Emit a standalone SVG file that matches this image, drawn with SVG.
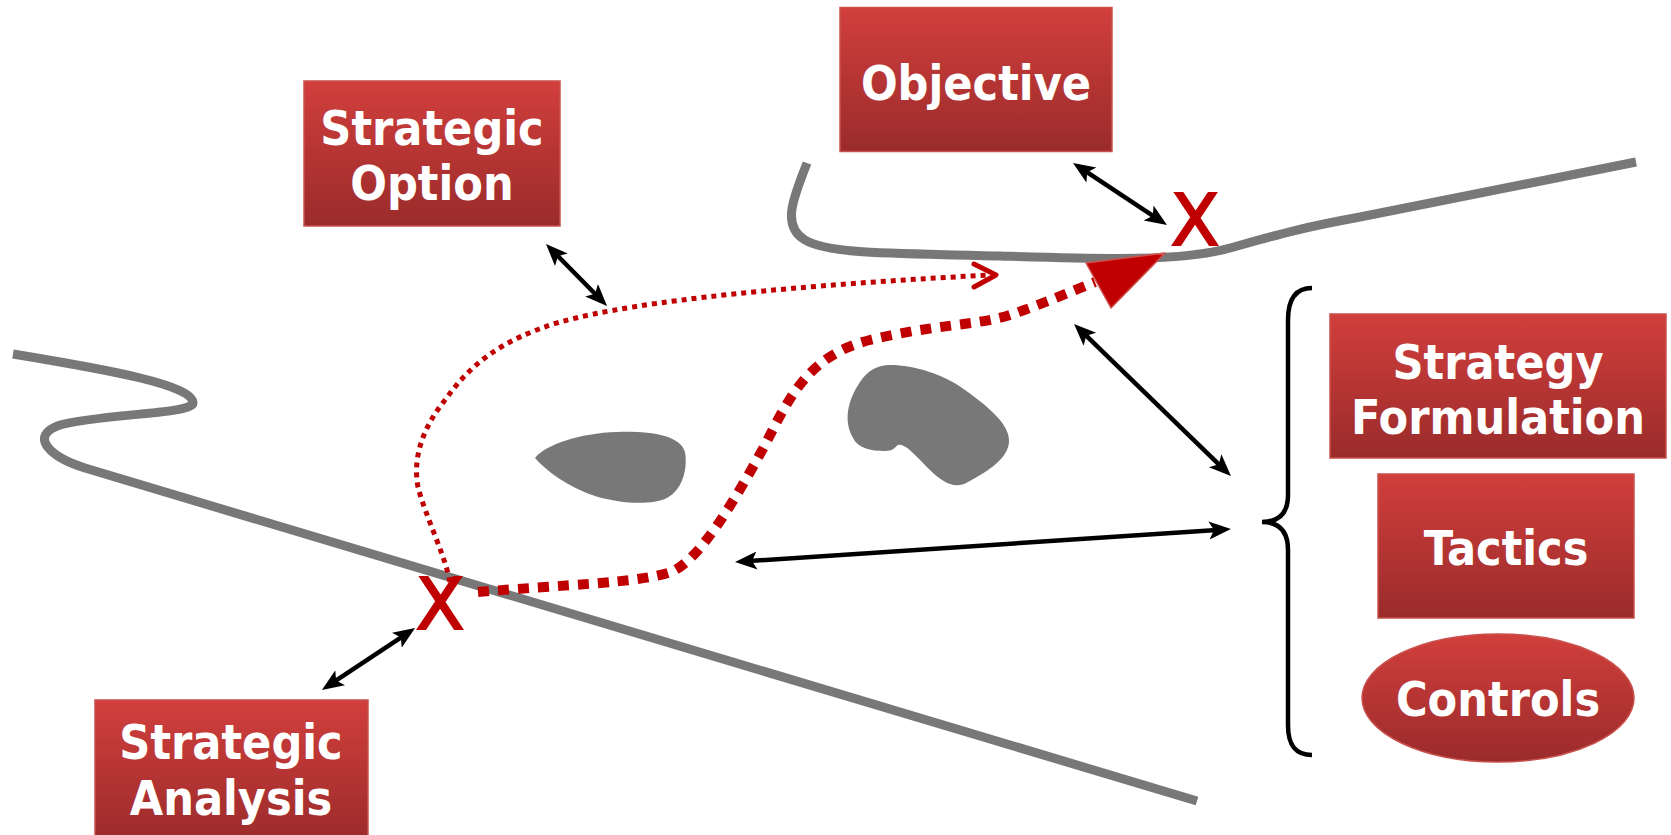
<svg xmlns="http://www.w3.org/2000/svg" width="1671" height="835" viewBox="0 0 1671 835">
<style>
.box{fill:url(#rg);stroke:#C9504C;stroke-width:1.5}
.lbl{font-family:"DejaVu Sans","Noto Sans",sans-serif;font-stretch:condensed;font-weight:bold;font-size:48px;fill:#fff;text-anchor:middle}
.gray{fill:none;stroke:#787878;stroke-width:9}
.blob{fill:#787878}
.blk{fill:none;stroke:#000;stroke-width:4.5}
.xm{font-family:"DejaVu Sans",sans-serif;font-size:71px;fill:#C00000;stroke:#C00000;stroke-width:2;text-anchor:middle}
.thin{fill:none;stroke:#C00000;stroke-width:5;stroke-dasharray:5 5}
.thick{fill:none;stroke:#C00000;stroke-width:10;stroke-dasharray:11 9}
</style>
<defs>
<linearGradient id="rg" x1="0" y1="0" x2="0" y2="1">
<stop offset="0" stop-color="#D13F3C"/>
<stop offset="1" stop-color="#9A2B2B"/>
</linearGradient>
<marker id="ah" markerUnits="userSpaceOnUse" markerWidth="24" markerHeight="20" refX="8" refY="9" orient="auto-start-reverse">
<path d="M0,0 L22,9 L0,18 L5,9 Z" fill="#000"/>
</marker>
</defs>
<rect width="1671" height="835" fill="#fff"/>
<g id="terrain">
<path class="gray" d="M13,354 C110,370 193,385 193,403 C193,414 100,414 60,425 C28,436 50,457 85,468 L1197,801"/>
<path class="gray" d="M807,163 C795,195 780,225 805,240 C830,255 900,253 1000,256 C1100,259 1180,262 1230,248 C1280,234 1300,228 1360,217 L1636,162"/>
<path class="blob" d="M535,458 C545,445 580,433 617,432 C650,431 680,435 685,452 C688,470 682,490 667,498 C650,506 620,503 598,497 C575,490 550,475 535,458 Z"/>
<path class="blob" d="M890,365 C915,365 945,375 965,390 C990,408 1010,425 1009,442 C1008,458 990,470 968,482 C955,490 942,482 930,470 C915,455 905,443 898,445 C894,448 893,451 885,451 C870,451 858,448 853,438 C843,420 848,400 860,382 C868,370 878,365 890,365 Z"/>
</g>
<g id="connectors">
<path class="thin" d="M450,582 C445,555 425,515 418,487 C412,455 425,425 445,400 C470,365 500,340 560,322 C640,300 800,285 990,275"/>
<polyline points="974,264 996,275 974,287" fill="none" stroke="#C00000" stroke-width="5" stroke-linecap="round" stroke-linejoin="round"/>
<path class="thick" d="M478,592 C560,585 640,583 671,572 C700,560 735,500 765,445 C790,395 810,355 870,340 C930,325 980,325 1010,315 C1040,305 1070,292 1095,282"/>
<path d="M1086,263 L1165,253 L1111,308 Z" fill="#C00000" stroke="#D0504C" stroke-width="1.5" stroke-linejoin="round"/>
<line class="blk" x1="1084.7" y1="170.7" x2="1155.3" y2="217.3" marker-start="url(#ah)" marker-end="url(#ah)"/>
<line class="blk" x1="555.8" y1="254" x2="597.2" y2="296" marker-start="url(#ah)" marker-end="url(#ah)"/>
<line class="blk" x1="1084.1" y1="333.7" x2="1220.9" y2="466.3" marker-start="url(#ah)" marker-end="url(#ah)"/>
<line class="blk" x1="749" y1="561.1" x2="1217" y2="529.9" marker-start="url(#ah)" marker-end="url(#ah)"/>
<line class="blk" x1="333.6" y1="682.2" x2="403.4" y2="635.8" marker-start="url(#ah)" marker-end="url(#ah)"/>
<path class="blk" d="M1312,288 C1295,288 1288,300 1288,320 L1288,495 C1288,512 1280,522 1262,522 C1280,522 1288,532 1288,550 L1288,725 C1288,745 1295,755 1312,755"/>
</g>
<g id="x-marks">
<text class="xm" x="1195" y="245">X</text>
<text class="xm" x="440" y="629">X</text>
</g>
<g id="objective">
<rect class="box" x="840" y="7.5" width="272" height="144"/>
<text class="lbl" x="976" y="100">Objective</text>
</g>
<g id="strategic-option">
<rect class="box" x="304" y="81" width="256" height="145"/>
<text class="lbl" x="432" y="145">Strategic</text>
<text class="lbl" x="432" y="200">Option</text>
</g>
<g id="strategy-formulation">
<rect class="box" x="1330" y="314" width="336" height="144"/>
<text class="lbl" x="1498" y="379">Strategy</text>
<text class="lbl" x="1498" y="434">Formulation</text>
</g>
<g id="tactics">
<rect class="box" x="1378" y="474" width="256" height="144"/>
<text class="lbl" x="1506" y="565">Tactics</text>
</g>
<g id="controls">
<ellipse class="box" cx="1498" cy="698" rx="136" ry="64"/>
<text class="lbl" x="1498" y="716">Controls</text>
</g>
<g id="strategic-analysis">
<rect class="box" x="95" y="700" width="273" height="145"/>
<text class="lbl" x="231" y="759">Strategic</text>
<text class="lbl" x="231" y="815">Analysis</text>
</g>
</svg>
